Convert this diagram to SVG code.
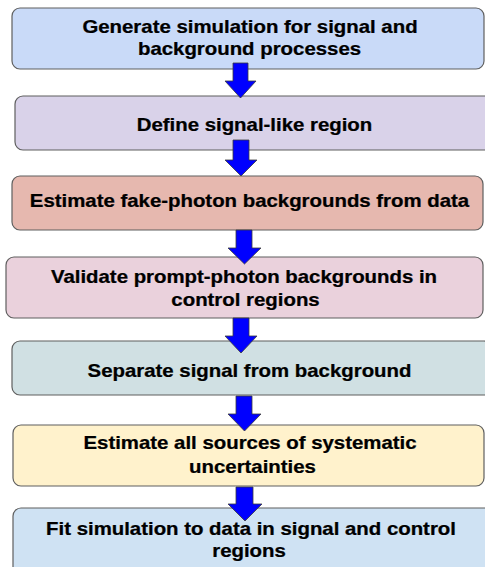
<svg xmlns="http://www.w3.org/2000/svg" width="485" height="567" viewBox="0 0 485 567">
  <style>
    .box { stroke: #5f5f5f; stroke-width: 1.2; }
    .lbl { font-family: "Liberation Sans", Arial, sans-serif; font-weight: bold; font-size: 17.8px; fill: #000; text-anchor: middle; stroke: #000; stroke-width: 0.25; }
    .arrow { fill: #0000ff; stroke: #3a3a3a; stroke-width: 0.8; stroke-linejoin: miter; }
  </style>
  <rect width="485" height="567" fill="#ffffff"/>

  <!-- labels are set in a horizontally widened face: scale(1.146 1) about each line's centre -->
  <g id="step1">
    <rect class="box" x="12" y="8" width="472" height="61" rx="8" fill="#c9daf8"/>
    <text class="lbl" transform="translate(250 32.5) scale(1.146 1)">Generate simulation for signal and</text>
    <text class="lbl" transform="translate(249.5 54.5) scale(1.146 1)">background processes</text>
  </g>

  <g id="step2">
    <rect class="box" x="15" y="96" width="478" height="54" rx="8" fill="#d9d2e9"/>
    <text class="lbl" transform="translate(254.5 130.5) scale(1.146 1)">Define signal-like region</text>
  </g>

  <g id="step3">
    <rect class="box" x="12" y="176" width="471" height="54" rx="8" fill="#e6b8af"/>
    <text class="lbl" transform="translate(249.5 207) scale(1.146 1)">Estimate fake-photon backgrounds from data</text>
  </g>

  <g id="step4">
    <rect class="box" x="6" y="257" width="477" height="61" rx="8" fill="#ead1dc"/>
    <text class="lbl" transform="translate(244 283.3) scale(1.146 1)">Validate prompt-photon backgrounds in</text>
    <text class="lbl" transform="translate(245.5 306) scale(1.146 1)">control regions</text>
  </g>

  <g id="step5">
    <rect class="box" x="12" y="341" width="480" height="54" rx="8" fill="#d0e0e3"/>
    <text class="lbl" transform="translate(249.5 376.5) scale(1.146 1)">Separate signal from background</text>
  </g>

  <g id="step6">
    <rect class="box" x="13" y="425" width="471" height="61" rx="8" fill="#fff2cc"/>
    <text class="lbl" transform="translate(250 449) scale(1.146 1)">Estimate all sources of systematic</text>
    <text class="lbl" transform="translate(252.5 473) scale(1.146 1)">uncertainties</text>
  </g>

  <g id="step7">
    <rect class="box" x="13" y="508" width="482" height="72" rx="8" fill="#cfe2f3"/>
    <text class="lbl" transform="translate(251 535) scale(1.146 1)">Fit simulation to data in signal and control</text>
    <text class="lbl" transform="translate(249 557) scale(1.146 1)">regions</text>
  </g>

  <!-- block arrows between steps -->
  <g id="connectors">
    <polygon class="arrow" points="233,63 248,63 248,81 256,81 240.5,98 225,81 233,81"/>
    <polygon class="arrow" points="233,140 249,140 249,160 257,160 241,176 225,160 233,160"/>
    <polygon class="arrow" points="236,230 252,230 252,248 261,248 244.5,264 228,248 236,248"/>
    <polygon class="arrow" points="233,318 249,318 249,336 257,336 241,353 225,336 233,336"/>
    <polygon class="arrow" points="236,396 252,396 252,414 261,414 244.5,431 228,414 236,414"/>
    <polygon class="arrow" points="236,487 253,487 253,504 262,504 245,521 228,504 236,504"/>
  </g>
</svg>
